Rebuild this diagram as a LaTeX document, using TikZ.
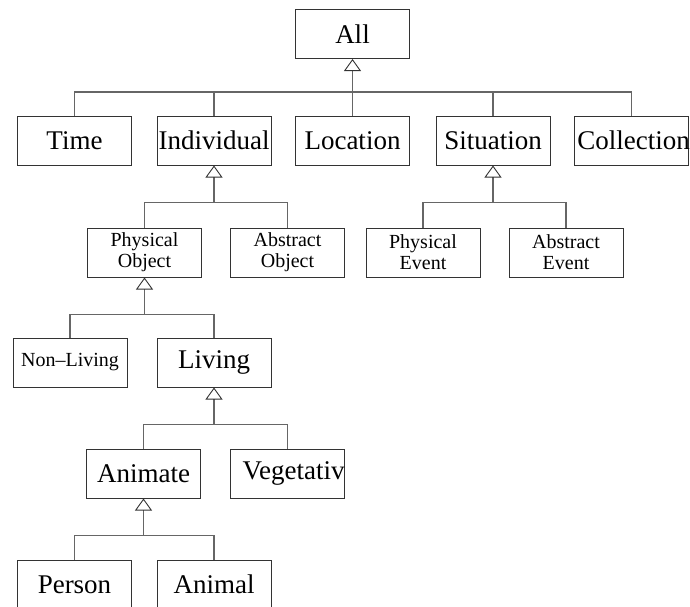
\documentclass[tikz,border=0pt]{standalone}
\usepackage{fontspec}
\setmainfont{Liberation Serif}
\usetikzlibrary{arrows.meta}
\definecolor{boxline}{HTML}{333333}
\definecolor{linkline}{HTML}{666666}
\begin{document}
\begin{tikzpicture}[x=1pt,y=-1pt,
  cls/.style={draw=boxline, line width=1pt, minimum width=114pt, minimum height=49pt,
    inner sep=0pt, font=\fontsize{27}{30}\selectfont},
  subcls/.style={cls, font=\fontsize{20}{21}\selectfont, align=center},
  link/.style={draw=linkline, line width=1.2pt},
  isa/.style={link, -{Triangle[open, length=12pt, width=17pt, line width=0.9pt, color=boxline]}}]
\useasboundingbox (0,0) rectangle (690,606);
\clip (0,0) rectangle (690,606);

% classes
\node[cls] (All) at (352.5,34) {All};

\node[cls] (Time)       at (74.5,140.5)  {Time};
\node[cls] (Individual) at (214,140.5)   {Individual};
\node[cls] (Location)   at (352.5,140.5) {Location};
\node[cls] (Situation)  at (493,140.5)   {Situation};
\node[cls] (Collection) at (631.5,140.5) {\makebox[0pt]{\hspace{4pt}Collection}};

\node[subcls] (PhysObj) at (144.5,252.5) {Physical\\Object};
\node[subcls] (AbsObj)  at (287.5,252.5) {Abstract\\Object};
\node[subcls] (PhysEv)  at (423,252.5)   {Physical\\Event};
\node[subcls] (AbsEv)   at (566,252.5)   {Abstract\\Event};

\node[cls, font=\fontsize{20}{21}\selectfont] (NonLiving) at (70,362.5) {Non–Living};
\node[cls] (Living) at (214,362.5) {Living};

\node[cls] (Animate)    at (143.5,473.5) {Animate};
\node[cls] (Vegetative) at (287.5,473.5) {\makebox[0pt]{\hspace{12pt}Vegetativ}};

\node[cls] (Person) at (74.5,584.5) {Person};
\node[cls] (Animal) at (214,584.5)  {Animal};

% junction points below each parent
\path (All.south)        ++(0,33) coordinate (jAll);
\path (Individual.south) ++(0,37) coordinate (jInd);
\path (Situation.south)  ++(0,37) coordinate (jSit);
\path (PhysObj.south)    ++(0,37) coordinate (jPhys);
\path (Living.south)     ++(0,37) coordinate (jLiv);
\path (Animate.south)    ++(0,37) coordinate (jAni);

% generalisation links
\foreach \c in {Time,Individual,Location,Situation,Collection}
  \draw[link] (\c.north) |- (jAll);
\draw[isa] (jAll) -- (All.south);

\foreach \c in {PhysObj,AbsObj}
  \draw[link] (\c.north) |- (jInd);
\draw[isa] (jInd) -- (Individual.south);

\foreach \c in {PhysEv,AbsEv}
  \draw[link] (\c.north) |- (jSit);
\draw[isa] (jSit) -- (Situation.south);

\foreach \c in {NonLiving,Living}
  \draw[link] (\c.north) |- (jPhys);
\draw[isa] (jPhys) -- (PhysObj.south);

\foreach \c in {Animate,Vegetative}
  \draw[link] (\c.north) |- (jLiv);
\draw[isa] (jLiv) -- (Living.south);

\foreach \c in {Person,Animal}
  \draw[link] (\c.north) |- (jAni);
\draw[isa] (jAni) -- (Animate.south);
\end{tikzpicture}
\end{document}
